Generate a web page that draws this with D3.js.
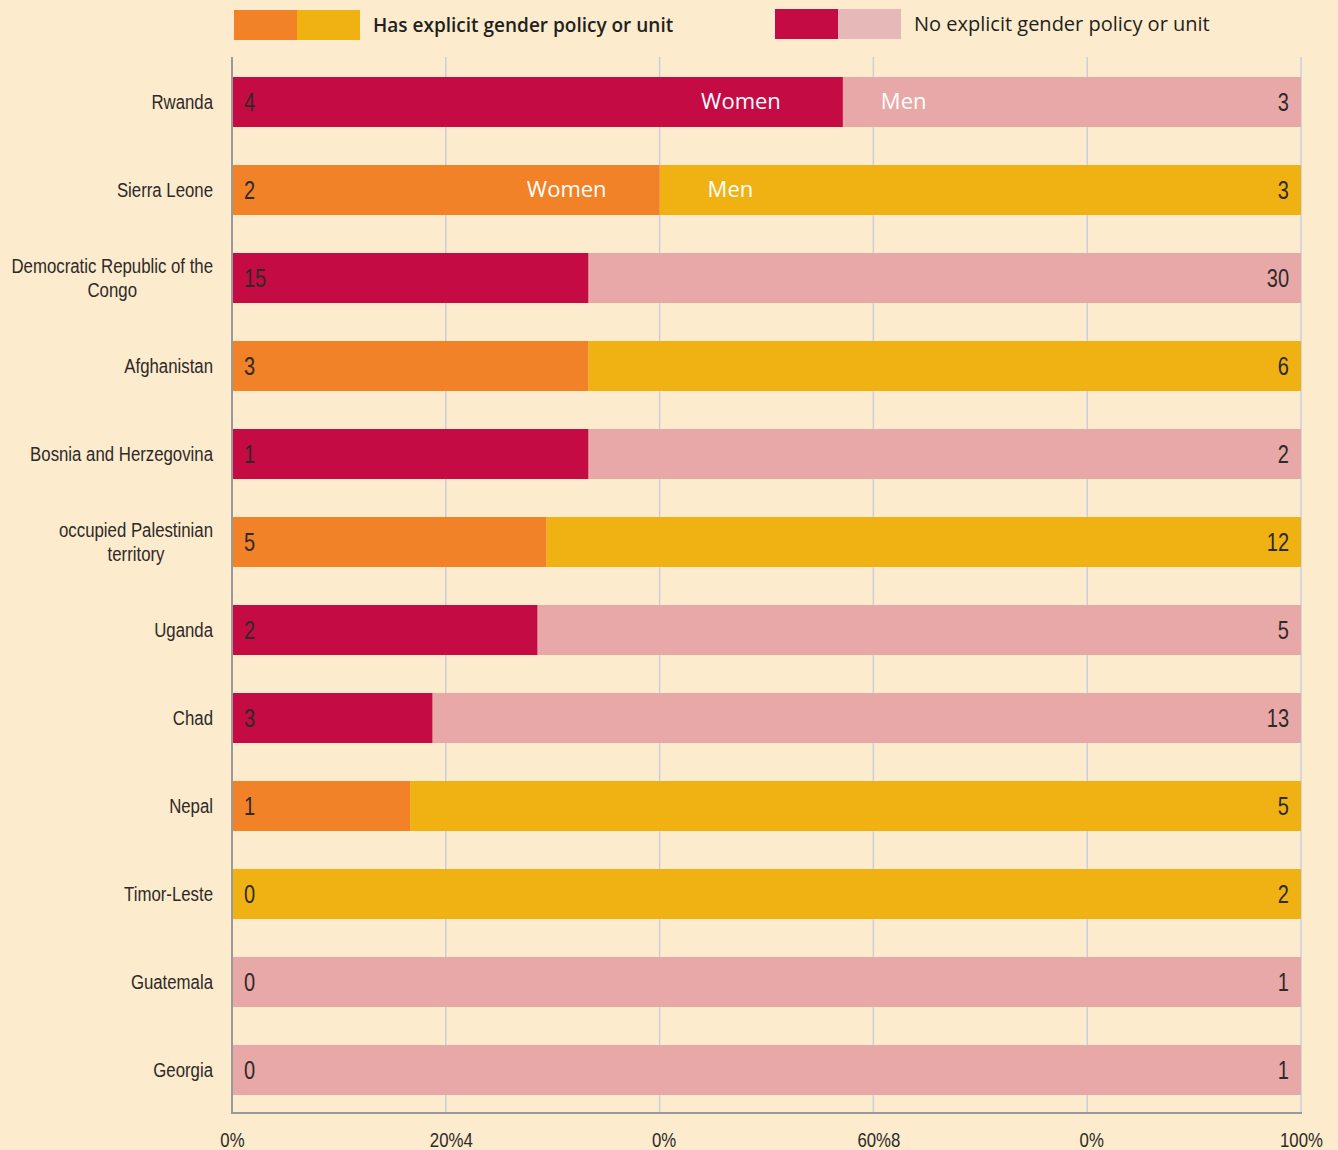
<!DOCTYPE html>
<html><head><meta charset="utf-8">
<script src="https://cdn.jsdelivr.net/npm/d3@7"></script>
<style>
html,body{margin:0;padding:0;background:#fcebcd;}
svg{display:block;}
</style></head>
<body>
<svg id="chart" width="1338" height="1150"></svg>
<script>
const countries = ["Rwanda","Sierra Leone","Democratic Republic of the|Congo","Afghanistan","Bosnia and Herzegovina","occupied Palestinian|territory","Uganda","Chad","Nepal","Timor-Leste","Guatemala","Georgia"];
const women = [4,2,15,3,1,5,2,3,1,0,0,0];
const men = [3,3,30,6,2,12,5,13,5,2,1,1];
const hasPolicy = [false,true,false,true,false,true,false,false,true,true,false,false];
const tickValues = [0,0.2,0.4,0.6,0.8,1];
const tickLabels = ["0%","20%4","0%","60%8","0%","100%"];
const legendLabels = ["Has explicit gender policy or unit","No explicit gender policy or unit"];
const segLabels = ["Women","Men"];

const colors = {
  policy: ["#f28227","#f0b213"],
  noPolicy: ["#c50b43","#e8a8a7"],
  noPolicyLegend: ["#c50b43","#e6b8b7"]
};

const svg = d3.select("#chart");
const mLeft = 232, mRight = 1301, mTop = 58, mBottom = 1114;
const narrow = "'Liberation Sans',Arial,sans-serif";
const NS = 0.8; // horizontal squeeze to imitate a narrow face
const sans = "'Open Sans','Noto Sans',sans-serif";
const womenGap = [62,53], menGap = [38,48];

function ntext(parent, tx, ty, str, size, anchor){
  const g = parent.append("g").attr("transform",`translate(${tx},${ty}) scale(${NS},1)`);
  return g.append("text").attr("x",0).attr("y",0).attr("text-anchor",anchor||"start")
    .attr("font-family",narrow).attr("font-size",size).attr("fill","#2e2a28").text(str);
}

const x = d3.scaleLinear().domain([0,1]).range([mLeft,mRight]);
const y = d3.scaleBand().domain(d3.range(countries.length)).range([mTop,mBottom]).paddingInner(0.432).paddingOuter(0.216);

// gridlines
svg.append("g").selectAll("line").data(tickValues.slice(1)).join("line")
  .attr("x1",d=>x(d)).attr("x2",d=>x(d)).attr("y1",mTop-1).attr("y2",mBottom)
  .attr("stroke","#c9cfdd").attr("stroke-width",1.5);

const rows = svg.append("g").selectAll("g").data(countries).join("g")
  .attr("transform",(d,i)=>`translate(0,${y(i)})`);

rows.each(function(c,i){
  const g = d3.select(this);
  const tot = women[i]+men[i];
  const p = women[i]/tot;
  const col = hasPolicy[i] ? colors.policy : colors.noPolicy;
  const bw = y.bandwidth();
  g.append("rect").attr("x",x(p)).attr("y",0).attr("width",x(1)-x(p)).attr("height",bw).attr("fill",col[1]);
  if (p>0) g.append("rect").attr("x",x(0)).attr("y",0).attr("width",x(p)-x(0)).attr("height",bw).attr("fill",col[0]);
  ntext(g, x(0)+12, bw/2+9, women[i], 25, "start");
  ntext(g, x(1)-12, bw/2+9, men[i], 25, "end");
  if (i<2){
    g.append("text").attr("x",x(p)-womenGap[i]).attr("y",bw/2+7).attr("text-anchor","end").text(segLabels[0])
      .attr("font-family",sans).attr("font-size",22).attr("fill","#ffffff");
    g.append("text").attr("x",x(p)+menGap[i]).attr("y",bw/2+7).text(segLabels[1])
      .attr("font-family",sans).attr("font-size",22).attr("fill","#ffffff");
  }
  const lines = c.split("|");
  if (lines.length===1){
    ntext(g, 213, bw/2+7, c, 21, "end");
  } else {
    const tg = g.append("g");
    const ts = lines.map((l,k)=>ntext(tg, 0, bw/2+7-12+k*24, l, 21, "middle"));
    const w = d3.max(ts.map(s=>s.node().getComputedTextLength()))*NS;
    tg.attr("transform",`translate(${213-w/2},0)`);
  }
});

// axes lines
svg.append("line").attr("x1",mLeft).attr("x2",mLeft).attr("y1",mTop-1).attr("y2",mBottom).attr("stroke","#999").attr("stroke-width",2);
svg.append("line").attr("x1",mLeft).attr("x2",mRight+1).attr("y1",mBottom-1).attr("y2",mBottom-1).attr("stroke","#999").attr("stroke-width",2);

// x axis labels
const xAxis = d3.axisBottom(x).tickValues(tickValues).tickFormat((d,i)=>tickLabels[i]).tickSize(0).tickPadding(0);
const ax = svg.append("g").attr("transform",`translate(0,${mBottom})`).call(xAxis);
ax.select(".domain").remove();
ax.selectAll(".tick").each(function(d,i){
  const tx = d3.select(this).select("text");
  tx.attr("font-family",narrow).attr("font-size",21).attr("fill","#2e2a28")
    .attr("y",0).attr("dy",0).attr("x",0)
    .attr("transform",`translate(${(i===1||i===3) ? 5 : (i===2||i===4?4:0)},33) scale(${NS},1)`);
});

// legend
const leg = svg.append("g");
const legItems = [
  {x:234, y:10, cols:colors.policy, label:legendLabels[0], weight:600, size:19},
  {x:775, y:9, cols:colors.noPolicyLegend, label:legendLabels[1], weight:400, size:20}
];
legItems.forEach(it=>{
  leg.append("rect").attr("x",it.x).attr("y",it.y).attr("width",63).attr("height",30).attr("fill",it.cols[0]);
  leg.append("rect").attr("x",it.x+63).attr("y",it.y).attr("width",63).attr("height",30).attr("fill",it.cols[1]);
  leg.append("text").attr("x",it.x+139).attr("y",it.y+22).text(it.label)
    .attr("font-family",sans).attr("font-size",it.size).attr("font-weight",it.weight).attr("fill","#231f20");
});
</script>
</body></html>
